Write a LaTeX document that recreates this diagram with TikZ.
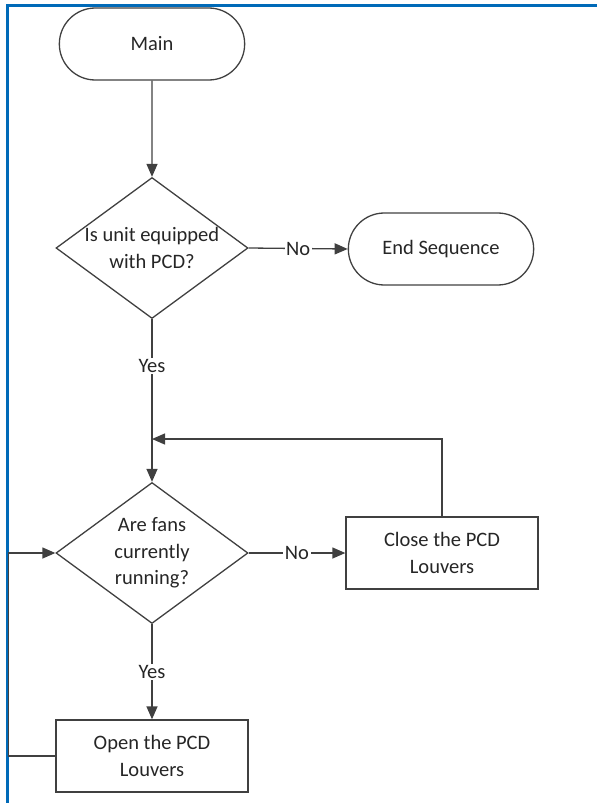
\documentclass[tikz,border=0pt]{standalone}
\usepackage{fontspec}
\setmainfont{Carlito}
\usetikzlibrary{shapes,arrows.meta}

\definecolor{frameblue}{RGB}{0,106,184}
\definecolor{lineclr}{RGB}{64,64,64}

\begin{document}
\begin{tikzpicture}[x=1pt,y=-1pt]
		\tikzstyle{flow font} = [font=\fontsize{20.5}{26.5}\selectfont, text=black!85]
		\tikzstyle{flow line} = [line width=1.3pt, draw=lineclr]
		\tikzstyle{flow arrow} = [flow line, -{Triangle[length=13pt,width=11pt]}]
		\tikzstyle{terminal} = [flow line, flow font, rounded rectangle, minimum width=192pt, minimum height=72pt]
		\tikzstyle{decision} = [flow line, diamond, minimum width=192pt, minimum height=141pt, inner sep=0pt]
		\tikzstyle{process} = [flow line, flow font, rectangle, align=center, minimum width=192pt, minimum height=72pt]
		\tikzstyle{flow text} = [flow font, align=center]
		\tikzstyle{edge label} = [flow font, fill=white, inner sep=1.5pt]

		\useasboundingbox (0,0) rectangle (597,803);
		\draw[line width=3pt, draw=frameblue] (7,803) -- (7,5) -- (597,5);

		% nodes
		\node[terminal] (main) at (152,44) {Main};
		\node[decision] (pcd) at (152,248) {};
		\node[flow text] (pcd text) at (pcd) {Is unit equipped\\with PCD?};
		\node[terminal] (end) at (441,249) {End Sequence};
		\node[decision] (fans) at (152,553) {};
		\node[flow text] (fans text) at (fans) {Are fans\\currently\\running?};
		\node[process] (close) at (442,553) {Close the PCD\\Louvers};
		\node[process] (open) at (152,756) {Open the PCD\\Louvers};

		\coordinate (join) at (152,439);

		% connectors
		\draw[flow arrow] (main) -- (pcd);
		\draw[flow arrow] (pcd.east) -- node[edge label] {No} (end.west);
		\draw[flow arrow] (pcd.south) -- node[edge label, pos=0.29] {Yes} (fans.north);
		\draw[flow arrow] (fans.east) -- node[edge label] {No} (close.west);
		\draw[flow arrow] (close.north) |- (join);
		\draw[flow arrow] (fans.south) -- node[edge label] {Yes} (open.north);
		\draw[flow arrow] (open.west) -- ++(-47,0) |- (fans.west);
\end{tikzpicture}
\end{document}
